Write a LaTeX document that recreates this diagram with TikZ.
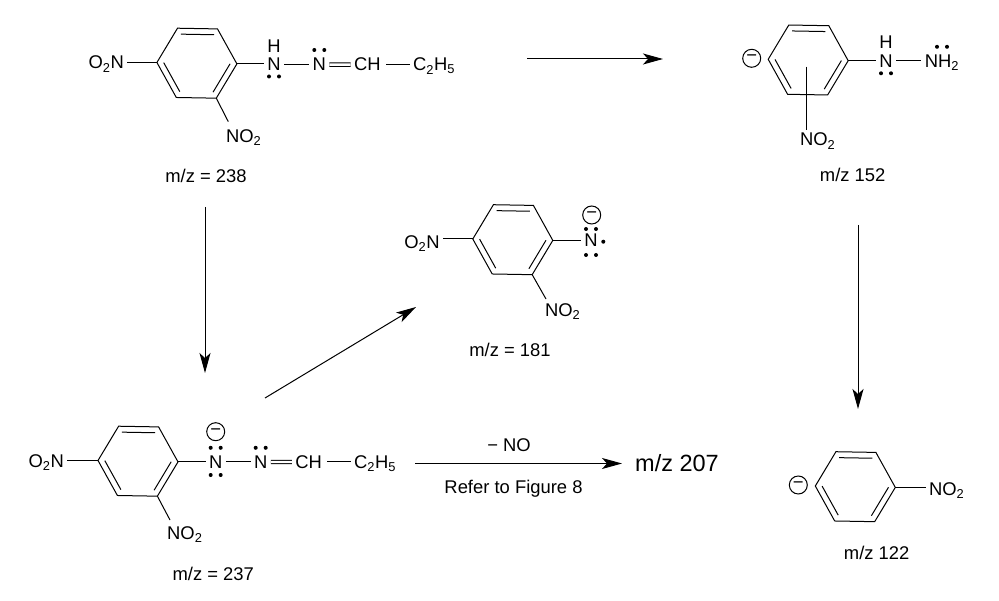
\documentclass[tikz,border=0pt]{standalone}
\usepackage{fontspec}
\setmainfont{Liberation Sans}
\usetikzlibrary{calc}
\usetikzlibrary{arrows.meta}

\newcommand{\nsub}[1]{\textsubscript{#1}}
% ring centre, then the six corners and three inner lines
\newcommand{\ringat}[2]{
  \coordinate (#1c) at #2;
  \foreach \i/\ang in {1/181,2/241,3/301,4/1,5/61,6/121}
    \coordinate (#1\i) at ($(#1c)+(\ang:40)$);
  \draw[bond] (#11) -- (#12) -- (#13) -- (#14) -- (#15) -- (#16) -- cycle;
  \draw[bond] ($(#1c)!.83!(#12)$) -- ($(#1c)!.83!(#13)$);
  \draw[bond] ($(#1c)!.83!(#11)$) -- ($(#1c)!.83!(#16)$);
  \draw[bond] ($(#1c)!.83!(#14)$) -- ($(#1c)!.83!(#15)$);
}
\newcommand{\lonepair}[2]{
  \foreach \s in {-5,5}
    \fill ($(#1.base)+(\s,#2)$) circle (2);
}

\begin{document}
\begin{tikzpicture}[x=1pt,y=-1pt,
      every node/.style={font=\fontsize{18.4}{20}\selectfont},
      atom/.style={anchor=base,inner sep=0pt,outer sep=3.5pt},
      caption/.style={anchor=base,inner sep=0pt},
      charge/.style={circle,draw,line width=1pt,minimum size=18pt,inner sep=0pt},
      bond/.style={line width=1pt},
      dblbond/.style={line width=1pt,double,double distance=2.4pt},
      reaction/.style={line width=1pt,-{Stealth[length=20pt,width=11pt,inset=5pt]}},
      ]
      \useasboundingbox (0,0) rectangle (999,601);

      % m/z 238
      \ringat{ra}{(196.9,63.2)}
      \node[atom] (raOn) at (106.3,69) {O\nsub{2}N};
      \node[atom] (raNo) at (243.7,142.3) {NO\nsub{2}};
      \node[atom] (raNa) at (274,71) {N};
      \node[atom] (raH) at (274,52.5) {H};
      \node[atom] (raNb) at (319.3,71) {N};
      \node[atom] (raCh) at (367.3,71) {CH};
      \node[atom] (raEt) at (434,71) {C\nsub{2}H\nsub{5}};
      \node[caption] (raMz) at (206,183) {m/z = 238};
      \coordinate (raTo) at (228.3,121.7);
      \draw[bond] (ra1) -- (raOn.east |- ra1);
      \draw[bond] (ra5) -- (raTo);
      \draw[bond] (ra4) -- (raNa.west |- ra4);
      \draw[bond] (raNa.east) -- (raNb.west);
      \draw[dblbond] (raNb.east) -- (raCh.west);
      \draw[bond,shorten <=2pt] (raCh.east) -- (raEt.west |- raCh.east);
      \lonepair{raNa}{5.5}
      \lonepair{raNb}{-21}

      % m/z 152
      \ringat{rb}{(808.2,60)}
      \node[charge] (rbQ) at (751.7,58.3) {−};
      \node[atom] (rbNo) at (817.7,146) {NO\nsub{2}};
      \node[atom] (rbNa) at (886,67.3) {N};
      \node[atom] (rbH) at (886,49) {H};
      \node[atom] (rbNh) at (942,67.3) {NH\nsub{2}};
      \node[caption] (rbMz) at (852.7,181.7) {m/z 152};
      \coordinate (rbIn) at (806.7,66.7);
      \draw[bond] (rbIn) -- (rbIn |- rbNo.north);
      \draw[bond] (rb4) -- (rbNa.west |- rb4);
      \draw[bond] (rbNa.east) -- (rbNh.west |- rbNa.east);
      \lonepair{rbNa}{6}
      \lonepair{rbNh}{-20.5}

      % m/z 181
      \ringat{rc}{(512.8,239.7)}
      \node[charge] (rcQ) at (591.7,215) {−};
      \node[atom] (rcOn) at (422,248.3) {O\nsub{2}N};
      \node[atom] (rcNo) at (562.7,316.7) {NO\nsub{2}};
      \node[atom] (rcNa) at (591,246.7) {N};
      \node[caption] (rcMz) at (510,356.7) {m/z = 181};
      \coordinate (rcTo) at (546,299);
      \draw[bond] (rc1) -- (rcOn.east |- rc1);
      \draw[bond] (rc5) -- (rcTo);
      \draw[bond] (rc4) -- (rcNa.west |- rc4);
      \lonepair{rcNa}{-17.7}
      \lonepair{rcNa}{8.3}
      \fill ($(rcNa.base)+(12.3,-5)$) circle (2);

      % m/z 237
      \ringat{rd}{(138,461.2)}
      \node[charge] (rdQ) at (215.7,431.7) {−};
      \node[atom] (rdOn) at (46.3,467.3) {O\nsub{2}N};
      \node[atom] (rdNo) at (184.8,539.3) {NO\nsub{2}};
      \node[atom] (rdNa) at (215.7,468.3) {N};
      \node[atom] (rdNb) at (260.7,468.3) {N};
      \node[atom] (rdCh) at (308.7,468.3) {CH};
      \node[atom] (rdEt) at (375,468.3) {C\nsub{2}H\nsub{5}};
      \node[caption] (rdMz) at (213.3,580.7) {m/z = 237};
      \coordinate (rdTo) at (170,520);
      \draw[bond] (rd1) -- (rdOn.east |- rd1);
      \draw[bond] (rd5) -- (rdTo);
      \draw[bond] (rd4) -- (rdNa.west |- rd4);
      \draw[bond] (rdNa.east) -- (rdNb.west);
      \draw[dblbond] (rdNb.east) -- (rdCh.west);
      \draw[bond,shorten <=2pt] (rdCh.east) -- (rdEt.west |- rdCh.east);
      \lonepair{rdNa}{-20.5}
      \lonepair{rdNa}{6.7}
      \lonepair{rdNb}{-20.5}

      % m/z 122
      \ringat{re}{(855.3,486.7)}
      \node[charge] (reQ) at (798.3,485) {−};
      \node[atom] (reNo) at (946.7,495) {NO\nsub{2}};
      \node[caption] (reMz) at (876.7,559.3) {m/z 122};
      \draw[bond] (re4) -- (reNo.west |- re4);

      % reaction arrows
      \coordinate (rxa) at (527,59);
      \coordinate (rxb) at (663,59);
      \coordinate (rxc) at (205,207);
      \coordinate (rxd) at (205,373);
      \coordinate (rxe) at (265,398);
      \coordinate (rxf) at (416,307);
      \coordinate (rxg) at (415,463.5);
      \coordinate (rxj) at (622,463.5);
      \coordinate (rxh) at (858,225);
      \coordinate (rxi) at (858,409);
      \node[caption] (rxNo) at (509,451.5) {− NO};
      \node[caption] (rxRef) at (513.5,493.5) {Refer to Figure 8};
      \node[caption,font=\fontsize{23.5}{26}\selectfont] (rxMz) at (677,471.7) {m/z 207};
      \draw[reaction] (rxa) -- (rxb);
      \draw[reaction] (rxc) -- (rxd);
      \draw[reaction] (rxe) -- (rxf);
      \draw[reaction] (rxg) -- (rxj);
      \draw[reaction] (rxh) -- (rxi);
    \end{tikzpicture}
\end{document}
